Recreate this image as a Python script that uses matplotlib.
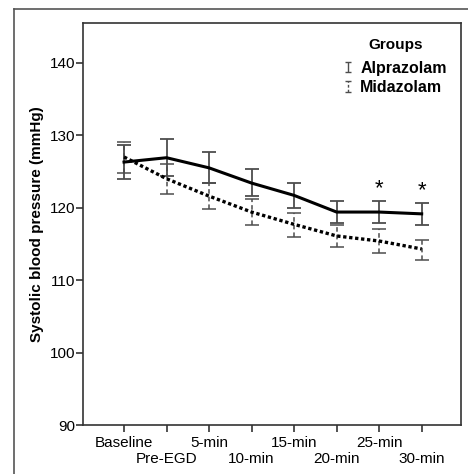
import numpy as np
import matplotlib.pyplot as plt
from matplotlib.lines import Line2D
from matplotlib.container import ErrorbarContainer
from matplotlib.legend_handler import HandlerErrorbar

plt.rcParams['font.family'] = ['Liberation Sans', 'DejaVu Sans']

# data
timepoints = ['Baseline', 'Pre-EGD', '5-min', '10-min', '15-min', '20-min', '25-min', '30-min']
alp_mean = [126.3, 126.9, 125.5, 123.4, 121.7, 119.4, 119.4, 119.15]
alp_low = [124.0, 124.35, 123.4, 121.55, 120.0, 117.95, 117.85, 117.6]
alp_high = [128.6, 129.45, 127.65, 125.3, 123.4, 120.9, 120.9, 120.6]
mid_mean = [127.0, 124.0, 121.6, 119.4, 117.7, 116.1, 115.4, 114.3]
mid_low = [124.85, 121.9, 119.8, 117.6, 115.9, 114.6, 113.7, 112.8]
mid_high = [129.1, 126.1, 123.4, 121.2, 119.3, 117.6, 117.0, 115.6]
significant = ['25-min', '30-min']

x = np.arange(len(timepoints))
alp_err = [np.array(alp_mean) - np.array(alp_low), np.array(alp_high) - np.array(alp_mean)]
mid_err = [np.array(mid_mean) - np.array(mid_low), np.array(mid_high) - np.array(mid_mean)]

fig = plt.figure(figsize=(4.68, 4.74), dpi=100)

# outer frame lines (left and top) like the original figure border
fig.add_artist(Line2D([14/468, 14/468], [0, 1 - 9/474], color='#555555', lw=1.2))
fig.add_artist(Line2D([14/468, 1], [1 - 9/474, 1 - 9/474], color='#555555', lw=1.2))

ax = fig.add_axes([83/468, 49/474, 378/468, 402/474])

grey = '#4d4d4d'
eb_alp = ax.errorbar(x, alp_mean, yerr=alp_err, fmt='none', ecolor=grey,
                     elinewidth=1.3, capsize=5, capthick=1.3, zorder=2)
eb_mid = ax.errorbar(x, mid_mean, yerr=mid_err, fmt='none', ecolor=grey,
                     elinewidth=1.1, capsize=5, capthick=1.1, zorder=2)
eb_mid[2][0].set_linestyle((0, (3, 2)))

ax.plot(x, alp_mean, color='black', lw=2.2, zorder=3)
ax.plot(x, mid_mean, color='black', lw=2.4, linestyle=(0, (1.0, 0.8)), zorder=3)

for lab in significant:
    i = timepoints.index(lab)
    ax.text(x[i], alp_high[i] + 0.3, '*', ha='center', va='bottom', fontsize=16)

# small proxy error bars just for the legend keys
leg_alp = ax.errorbar([np.nan], [np.nan], yerr=[1], fmt='none', ecolor=grey,
                      elinewidth=1.0, capsize=2.5, capthick=1.0)
leg_mid = ax.errorbar([np.nan], [np.nan], yerr=[1], fmt='none', ecolor=grey,
                      elinewidth=1.0, capsize=2.5, capthick=1.0)
leg_mid[2][0].set_linestyle((0, (2, 1.5)))

ax.set_xlim(-0.965, 7.925)
ax.set_ylim(90, 145.5)
ax.set_yticks([90, 100, 110, 120, 130, 140])
ax.set_xticks(x)
ax.set_xticklabels(timepoints)

for s in ax.spines.values():
    s.set_color('#333333')
    s.set_linewidth(1.2)

ax.tick_params(axis='y', direction='out', length=5, width=1.2, color='#333333',
               labelsize=11, pad=0.5)
ax.tick_params(axis='x', direction='out', length=5, width=1.2, color='#333333',
               labelsize=11, pad=3)
for i, t in enumerate(ax.xaxis.get_major_ticks()):
    if i % 2 == 1:
        t.tick1line.set_markersize(16.5)
        t.set_pad(3 + 11.5)

ax.set_ylabel('Systolic blood pressure (mmHg)', fontsize=11, fontweight='bold', labelpad=4)

leg = ax.legend([leg_alp, leg_mid], ['Alprazolam', 'Midazolam'], loc='upper right',
                title='Groups', frameon=False, handlelength=0.5, handletextpad=0.5,
                labelspacing=0.3, prop={'weight': 'bold', 'size': 11.5},
                bbox_to_anchor=(1.0, 0.998),
                handler_map={ErrorbarContainer: HandlerErrorbar(yerr_size=0.33)})
leg.get_title().set_fontweight('bold')
leg.get_title().set_fontsize(11)
leg._legend_box.sep = 6

fig.savefig('out.png', dpi=100)
